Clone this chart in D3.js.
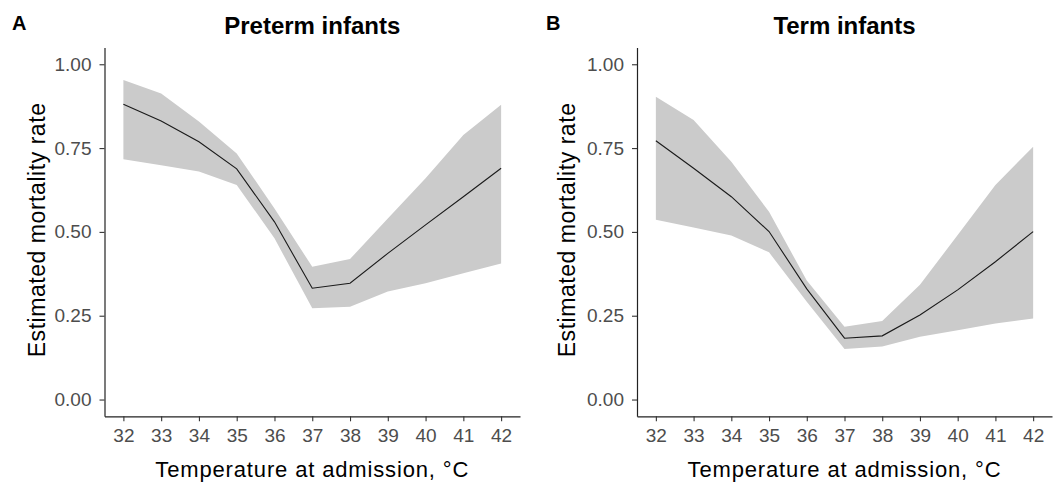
<!DOCTYPE html>
<html>
<head>
<meta charset="utf-8">
<script src="https://cdn.jsdelivr.net/npm/d3@7"></script>
<style>
  body { margin: 0; background: #fff; }
  svg { display: block; font-family: "Liberation Sans", Arial, sans-serif; }
</style>
</head>
<body>
<svg id="chart" width="1060" height="484"></svg>
<script>
// ---- data ----
const temperatures = [32, 33, 34, 35, 36, 37, 38, 39, 40, 41, 42];
const xTickLabels = ["32","33","34","35","36","37","38","39","40","41","42"];
const yTicks = [0, 0.25, 0.5, 0.75, 1];

const pretermEstimate = [0.881, 0.831, 0.769, 0.688, 0.530, 0.332, 0.347, 0.436, 0.521, 0.605, 0.690];
const pretermUpper    = [0.953, 0.913, 0.829, 0.734, 0.570, 0.396, 0.419, 0.540, 0.660, 0.789, 0.879];
const pretermLower    = [0.717, 0.699, 0.680, 0.640, 0.481, 0.272, 0.277, 0.322, 0.347, 0.377, 0.406];

const termEstimate = [0.772, 0.690, 0.605, 0.501, 0.330, 0.183, 0.190, 0.252, 0.327, 0.411, 0.501];
const termUpper    = [0.903, 0.834, 0.709, 0.560, 0.355, 0.217, 0.234, 0.342, 0.491, 0.640, 0.754];
const termLower    = [0.536, 0.513, 0.489, 0.439, 0.292, 0.151, 0.158, 0.187, 0.207, 0.227, 0.242];

const panelLetters = ["A", "B"];
const panelTitles = ["Preterm infants", "Term infants"];
const xTitle = "Temperature at admission, \u00B0C";
const yTitle = "Estimated mortality rate";

// ---- layout ----
const svg = d3.select("#chart");
const panels = [
  { letter: panelLetters[0], title: panelTitles[0], est: pretermEstimate, up: pretermUpper, lo: pretermLower,
    left: 104.5, right: 520, letterX: 12, yTitleX: 45 },
  { letter: panelLetters[1], title: panelTitles[1], est: termEstimate, up: termUpper, lo: termLower,
    left: 637, right: 1052, letterX: 546, yTitleX: 575 }
];
const plotTop = 47.5, plotBottom = 416.3;

panels.forEach(p => {
  const x = d3.scaleLinear().domain([31.5, 42.5]).range([p.left, p.right]);
  const y = d3.scaleLinear().domain([-0.05, 1.05]).range([plotBottom, plotTop]);
  const g = svg.append("g");

  const rows = temperatures.map((t, i) => ({ t, est: p.est[i], up: p.up[i], lo: p.lo[i] }));

  g.append("path")
    .datum(rows)
    .attr("fill", "#cbcbcb")
    .attr("d", d3.area().x(d => x(d.t)).y0(d => y(d.lo)).y1(d => y(d.up)));

  g.append("path")
    .datum(rows)
    .attr("fill", "none")
    .attr("stroke", "#1a1a1a")
    .attr("stroke-width", 1.1)
    .attr("d", d3.line().x(d => x(d.t)).y(d => y(d.est)));

  // axes
  const xAxis = g.append("g")
    .attr("transform", `translate(0,${plotBottom})`)
    .call(d3.axisBottom(x).tickValues(temperatures).tickFormat((d, i) => xTickLabels[i]).tickSize(5).tickPadding(4).tickSizeOuter(0));
  const yAxis = g.append("g")
    .attr("transform", `translate(${p.left},0)`)
    .call(d3.axisLeft(y).tickValues(yTicks).tickFormat(d3.format(".2f")).tickSize(5).tickPadding(8).tickSizeOuter(0));

  [xAxis, yAxis].forEach(a => {
    a.select(".domain").attr("stroke", "#222").attr("stroke-width", 1.2);
    a.selectAll(".tick line").attr("stroke", "#333").attr("stroke-width", 1.1);
    a.selectAll(".tick text").attr("fill", "#4d4d4d").style("font-size", "19px")
      .style("font-family", "'Liberation Sans', Arial, sans-serif");
  });
  xAxis.selectAll(".tick text").attr("dy", "0.9em");

  // titles
  g.append("text")
    .attr("x", (p.left + p.right) / 2).attr("y", 34)
    .attr("text-anchor", "middle")
    .style("font-size", "24px").style("font-weight", "bold")
    .attr("fill", "#000")
    .text(p.title);

  g.append("text")
    .attr("x", p.letterX).attr("y", 30)
    .style("font-size", "20px").style("font-weight", "bold")
    .attr("fill", "#000")
    .text(p.letter);

  g.append("text")
    .attr("x", (p.left + p.right) / 2).attr("y", 477)
    .attr("text-anchor", "middle")
    .style("font-size", "22px").style("letter-spacing", "0.85px")
    .attr("fill", "#000")
    .text(xTitle);

  g.append("text")
    .attr("transform", `translate(${p.yTitleX},${(plotTop + plotBottom) / 2 - 2}) rotate(-90)`)
    .attr("text-anchor", "middle")
    .style("font-size", "23px").style("letter-spacing", "0.55px")
    .attr("fill", "#000")
    .text(yTitle);
});
</script>
</body>
</html>
